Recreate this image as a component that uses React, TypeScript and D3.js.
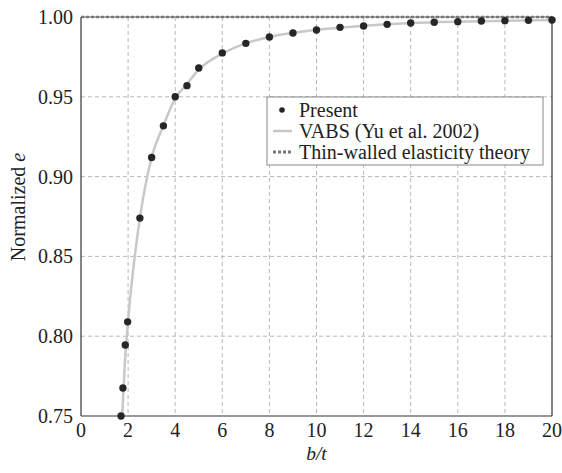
import React from "react";
import * as d3 from "d3";

const presentX = [1.7, 1.78, 1.88, 1.98, 2.5, 3, 3.5, 4, 4.5, 5, 6, 7, 8, 9, 10, 11, 12, 13, 14, 15, 16, 17, 18, 19, 20];
const presentY = [0.75, 0.7675, 0.7945, 0.809, 0.874, 0.912, 0.9318, 0.9500, 0.957, 0.968, 0.9775, 0.9835, 0.9875, 0.990, 0.9919, 0.9935, 0.9944, 0.9954, 0.9962, 0.9967, 0.9971, 0.9975, 0.9977, 0.9979, 0.9981];

const vabsX = [1.75, 1.85, 2.0, 2.25, 2.5, 3, 3.5, 4, 4.5, 5, 6, 7, 8, 10, 12, 14, 16, 18, 20];
const vabsY = [0.75, 0.78, 0.81, 0.846, 0.874, 0.912, 0.932, 0.949, 0.958, 0.967, 0.977, 0.9835, 0.9875, 0.992, 0.9945, 0.9962, 0.9971, 0.9977, 0.9981];

const thinWalledY = 1.0;

const xTicks = [0, 2, 4, 6, 8, 10, 12, 14, 16, 18, 20];
const yTicks = [0.75, 0.8, 0.85, 0.9, 0.95, 1.0];

const legendLabels = ["Present", "VABS (Yu et al. 2002)", "Thin-walled elasticity theory"];

const SERIF = '"Liberation Serif", "Times New Roman"';

export default function App() {
  const W = 562, H = 473;
  const left = 81, right = 552, top = 17, bottom = 416;
  const x = d3.scaleLinear().domain([0, 20]).range([left, right]);
  const y = d3.scaleLinear().domain([0.75, 1.0]).range([bottom, top]);
  const fs = { fontFamily: SERIF };

  const vabsLine = d3
    .line<number>()
    .x((_, i) => x(vabsX[i]))
    .y((d) => y(d))
    .curve(d3.curveMonotoneX)(vabsY) as string;

  return (
    <svg width={W} height={H} style={{ position: "absolute", left: 0, top: 0, fontFamily: SERIF }}>
      <rect width={W} height={H} fill="#fff" />
      <defs>
        <clipPath id="plot">
          <rect x={left} y={top - 3} width={right - left + 3} height={bottom - top + 3} />
        </clipPath>
      </defs>
      {/* grid */}
      {xTicks.slice(1, -1).map((t) => (
        <line key={"gx" + t} x1={x(t)} x2={x(t)} y1={top} y2={bottom} stroke="#b8b8b8" strokeWidth={1} strokeDasharray="4,3" />
      ))}
      {yTicks.slice(1, -1).map((t) => (
        <line key={"gy" + t} x1={left} x2={right} y1={y(t)} y2={y(t)} stroke="#b8b8b8" strokeWidth={1} strokeDasharray="4,3" />
      ))}
      {/* frame */}
      <line x1={left} x2={right} y1={bottom} y2={bottom} stroke="#333" strokeWidth={1.2} />
      <line x1={left} x2={left} y1={top} y2={bottom} stroke="#333" strokeWidth={1.2} />
      <line x1={right} x2={right} y1={top} y2={bottom} stroke="#333" strokeWidth={1.2} />
      <line x1={left} x2={right} y1={top} y2={top} stroke="#555" strokeWidth={1} />
      <g clipPath="url(#plot)">
        <path d={vabsLine} fill="none" stroke="#c8c8c8" strokeWidth={2.5} />
        <line x1={x(0)} x2={x(20)} y1={y(thinWalledY)} y2={y(thinWalledY)} stroke="#777" strokeWidth={2.5} strokeDasharray="3,2" />
      </g>
      {presentX.map((xv, i) => (
        <circle key={"p" + i} cx={x(xv)} cy={y(presentY[i])} r={3.7} fill="#262626" />
      ))}
      {/* ticks labels */}
      {xTicks.map((t) => (
        <text key={"xt" + t} x={x(t)} y={437} textAnchor="middle" style={fs} fontSize={20} fill="#222">
          {t}
        </text>
      ))}
      {yTicks.map((t) => (
        <text key={"yt" + t} x={73} y={y(t) + 7} textAnchor="end" style={fs} fontSize={20} fill="#222">
          {t.toFixed(2)}
        </text>
      ))}
      {/* axis labels */}
      <text x={x(10)} y={459.5} textAnchor="middle" style={fs} fontSize={19.5} fontStyle="italic" fill="#222">
        b/t
      </text>
      <text transform={`translate(25, 207) rotate(-90)`} textAnchor="middle" style={fs} fontSize={20} fill="#222">
        Normalized <tspan fontStyle="italic">e</tspan>
      </text>
      {/* legend */}
      <g>
        <rect x={267} y={97} width={276} height={68} fill="#fff" stroke="#888" strokeWidth={1} />
        <circle cx={282} cy={110} r={2.8} fill="#262626" />
        <line x1={273} x2={292} y1={131} y2={131} stroke="#c8c8c8" strokeWidth={2.5} />
        <line x1={273} x2={292} y1={152} y2={152} stroke="#777" strokeWidth={3} strokeDasharray="3,2" />
        {legendLabels.map((l, i) => (
          <text key={l} x={299} y={117 + i * 21} style={fs} fontSize={20} fill="#222">
            {l}
          </text>
        ))}
      </g>
    </svg>
  );
}
